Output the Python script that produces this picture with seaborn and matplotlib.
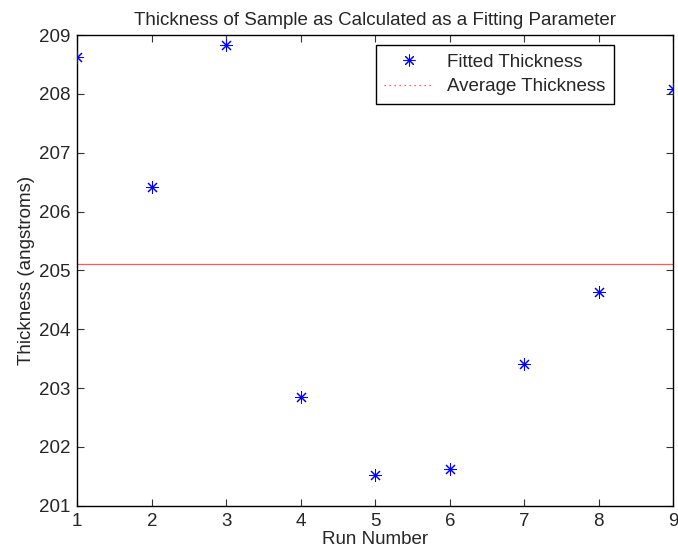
import numpy as np
import pandas as pd
import seaborn as sns
import matplotlib
matplotlib.use("Agg")
import matplotlib.pyplot as plt
from matplotlib.lines import Line2D

# Data
run_numbers = [1, 2, 3, 4, 5, 6, 7, 8, 9]
thickness = [208.62, 206.41, 208.83, 202.85, 201.52, 201.62, 203.41, 204.63, 208.085]
x_ticks = [1, 2, 3, 4, 5, 6, 7, 8, 9]
y_ticks = [201, 202, 203, 204, 205, 206, 207, 208, 209]

title = "Thickness of Sample as Calculated as a Fitting Parameter"
xlabel = "Run Number"
ylabel = "Thickness (angstroms)"
legend_labels = ["Fitted Thickness", "Average Thickness"]

df = pd.DataFrame({"run": run_numbers, "thickness": thickness})
avg = float(np.mean(thickness))

sns.set_theme(style="white")
plt.rcParams["font.family"] = ["Liberation Sans", "DejaVu Sans"]
fs = 13.5

fig = plt.figure(figsize=(6.78, 5.54), dpi=100)
ax = fig.add_axes([0.114, 0.0872, 0.879, 0.8496])

asterisk = (8, 2, 0)
sns.scatterplot(data=df, x="run", y="thickness", marker=asterisk, s=75,
                color="#0000ff", edgecolor="#0000ff", linewidth=0.75, ax=ax,
                zorder=3, legend=False)
ax.axhline(avg, color="#ff3030", linewidth=0.9, alpha=0.8, zorder=2)

ax.set_xlim(1, 9)
ax.set_ylim(201, 209)
ax.set_xticks(x_ticks)
ax.set_yticks(y_ticks)
ax.set_xticklabels([str(t) for t in x_ticks], fontsize=fs)
ax.set_yticklabels([str(t) for t in y_ticks], fontsize=fs)
ax.tick_params(direction="in", length=5, width=0.8, color="#333333",
               top=True, right=True, bottom=True, left=True, pad=5)
for sp in ax.spines.values():
    sp.set_visible(True)
    sp.set_color("black")
    sp.set_linewidth(1.0)

ax.set_title(title, fontsize=fs, pad=7)
ax.set_xlabel(xlabel, fontsize=fs, labelpad=1)
ax.set_ylabel(ylabel, fontsize=fs, labelpad=3)

handles = [
    Line2D([], [], linestyle="none", marker=asterisk, markersize=8.5,
           color="#0000ff", markeredgewidth=0.75),
    Line2D([], [], linestyle=(0, (1, 3)), color="#ff3030", linewidth=0.9),
]
leg = ax.legend(handles, legend_labels, loc="upper right",
                bbox_to_anchor=(0.9005, 0.9788), fontsize=fs,
                frameon=True, fancybox=False, edgecolor="black",
                framealpha=1, borderpad=0.45, handlelength=2.6,
                handletextpad=0.75, labelspacing=0.4, borderaxespad=0)
leg.get_frame().set_linewidth(1.0)

fig.savefig("out.png", dpi=100)
